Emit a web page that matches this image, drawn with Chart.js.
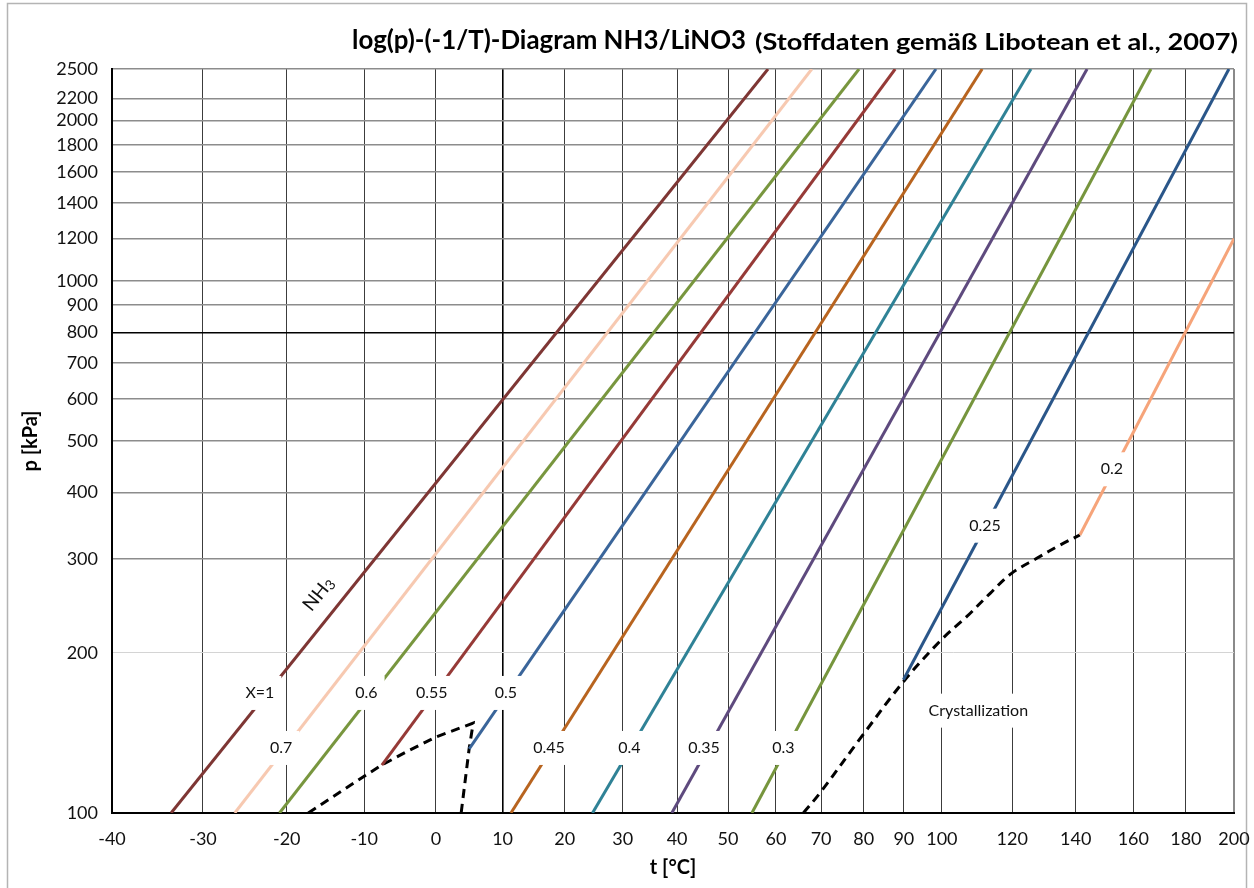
<!DOCTYPE html>
<html>
<head>
<meta charset="utf-8">
<script src="https://cdn.jsdelivr.net/npm/chart.js@4.4.1/dist/chart.umd.min.js"></script>
<style>
html,body{margin:0;padding:0;background:#fff;}
#wrap{width:1254px;height:888px;position:relative;}
</style>
</head>
<body>
<div id="wrap"><canvas id="c"></canvas></div>
<script>
// ---------- data ----------
const xTickTemps = [-40,-30,-20,-10,0,10,20,30,40,50,60,70,80,90,100,120,140,160,180,200];
const yTickPressures = [100,200,300,400,500,600,700,800,900,1000,1200,1400,1600,1800,2000,2200,2500];

const seriesNames = ['X=1','0.7','0.6','0.55','0.5','0.45','0.4','0.35','0.3','0.25','0.2'];
// temperature [°C] of start / end point of each line
const seriesT = [
  [-33.6, 58.3],
  [-26.3, 67.9],
  [-20.9, 78.9],
  [-7.6, 87.8],
  [4.9, 98.4],
  [11.3, 111.2],
  [24.7, 125.7],
  [39.0, 143.8],
  [54.9, 166.5],
  [89.9, 197.8],
  [141.4, 200]
];
// pressure [kPa] of start / end point of each line
const seriesP = [
  [100, 2500],
  [100, 2500],
  [100, 2500],
  [123, 2500],
  [132, 2500],
  [100, 2500],
  [100, 2500],
  [100, 2500],
  [100, 2500],
  [178, 2500],
  [333, 1200]
];

// crystallization line (two branches)
const crystA_T = [-17.3, -14.1, -10.1, -7.6, -4.2, 0.1, 5.5, 4.9, 3.7];
const crystA_P = [100, 107.3, 117.0, 123.1, 130.3, 139.1, 147.5, 132.3, 100];
const crystB_T = [66.0, 69.7, 79.5, 89.9, 99.8, 106.8, 113.5, 119.8, 127.5, 134.9, 141.4];
const crystB_P = [100, 108.9, 139.1, 176.5, 211.4, 233.8, 258.7, 282.0, 301.0, 318.8, 333.0];

// in-plot labels
const labelTexts = ['X=1','0.7','0.6','0.55','0.5','0.45','0.4','0.35','0.3','0.25','0.2','Crystallization'];
const labelT = [-23.3, -20.7, -9.7, -0.6, 10.5, 17.4, 31.2, 45.2, 61.6, 112.0, 152.3, 110.1];
const labelP = [168.1, 132.5, 168.1, 168.1, 168.1, 132.5, 132.5, 132.5, 132.5, 346.6, 442.4, 155.7];
const nh3LabelT = -16.0, nh3LabelP = 258;

const titleMain = 'log(p)-(-1/T)-Diagram NH3/LiNO3';
const titleSub = '(Stoffdaten gemäß Libotean et al., 2007)';

// ---------- styles ----------
const seriesColors = ['#7E3634','#F7C9B1','#78963E','#963A37','#3A659A','#B8641F','#2F8296','#5E4A7E','#76953D','#2A5689','#F6A47A'];
const FONT = 'Lato, "Open Sans", "DejaVu Sans", sans-serif';

// ---------- helpers ----------
const toU = t => -1000 / (t + 273.15);      // -1/T  (x 1000)
const fromU = u => -1000 / u - 273.15;

const datasets = seriesNames.map((n, i) => ({
  label: n,
  data: seriesT[i].map((t, k) => ({x: toU(t), y: seriesP[i][k]})),
  borderColor: seriesColors[i],
  borderWidth: 3,
  pointRadius: 0,
  tension: 0,
  fill: false
}));
[[crystA_T, crystA_P, 0], [crystB_T, crystB_P, 0.35]].forEach(([T, P, ten], j) => {
  datasets.push({
    label: 'Crystallization' + j,
    data: T.map((t, k) => ({x: toU(t), y: P[k]})),
    borderColor: '#000',
    borderWidth: 3,
    borderDash: [9, 6],
    pointRadius: 0,
    tension: ten,
    fill: false
  });
});

function drawFitted(ctx, text, size, rightX, baseY, width) {
  ctx.font = 'bold ' + size + 'px ' + FONT;
  const w = ctx.measureText(text).width;
  const sx = width / w;
  ctx.save();
  ctx.translate(rightX - width, baseY);
  ctx.scale(sx, 1);
  ctx.textAlign = 'left';
  ctx.fillText(text, 0, 0);
  ctx.restore();
}

const framePlugin = {
  id: 'frame',
  beforeDraw(chart) {
    const ctx = chart.ctx;
    ctx.save();
    ctx.fillStyle = '#fff';
    ctx.fillRect(0, 0, chart.width, chart.height);
    ctx.strokeStyle = '#b4b4b4';
    ctx.lineWidth = 1.5;
    ctx.strokeRect(7.5, 3.5, 1239, 900);
    ctx.restore();
  },
  afterDraw(chart) {
    const ctx = chart.ctx;
    ctx.save();
    ctx.fillStyle = '#000';
    ctx.textBaseline = 'alphabetic';
    drawFitted(ctx, titleSub, 22, 1238, 50, 483);
    drawFitted(ctx, titleMain, 27, 746, 49, 394);
    ctx.restore();
  }
};

const labelPlugin = {
  id: 'seriesLabels',
  afterDatasetsDraw(chart) {
    const {ctx, scales: {x, y}} = chart;
    ctx.save();
    ctx.font = '16px ' + FONT;
    ctx.textAlign = 'center';
    ctx.textBaseline = 'middle';
    labelTexts.forEach((txt, i) => {
      const px = x.getPixelForValue(toU(labelT[i]));
      const py = y.getPixelForValue(labelP[i]);
      const w = ctx.measureText(txt).width + 14, h = 34;
      ctx.fillStyle = '#fff';
      ctx.fillRect(px - w / 2, py - h / 2, w, h);
      ctx.fillStyle = '#111';
      ctx.fillText(txt, px, py);
    });
    // rotated NH3 label along first line
    const d = seriesT[0];
    const x1 = x.getPixelForValue(toU(d[0])), y1 = y.getPixelForValue(seriesP[0][0]);
    const x2 = x.getPixelForValue(toU(d[1])), y2 = y.getPixelForValue(seriesP[0][1]);
    const ang = Math.atan2(y2 - y1, x2 - x1);
    const cx = x.getPixelForValue(toU(nh3LabelT)), cy = y.getPixelForValue(nh3LabelP);
    ctx.translate(cx, cy);
    ctx.rotate(ang);
    ctx.textAlign = 'left';
    ctx.font = '19px ' + FONT;
    const wN = ctx.measureText('NH').width;
    ctx.font = '14px ' + FONT;
    const w3 = ctx.measureText('3').width;
    const start = -(wN + w3) / 2;
    ctx.fillStyle = '#111';
    ctx.font = '19px ' + FONT;
    ctx.fillText('NH', start, 0);
    ctx.font = '14px ' + FONT;
    ctx.fillText('3', start + wN, 4);
    ctx.restore();
  }
};

const tickIdx10 = xTickTemps.indexOf(10);
const tickIdxLast = xTickTemps.length - 1;

new Chart(document.getElementById('c'), {
  type: 'line',
  data: {datasets},
  plugins: [framePlugin, labelPlugin],
  options: {
    responsive: true,
    maintainAspectRatio: false,
    animation: false,
    devicePixelRatio: 1,
    layout: {padding: {top: 69, right: 20, left: 0, bottom: 0}},
    plugins: {legend: {display: false}, tooltip: {enabled: false}, title: {display: false}},
    scales: {
      x: {
        type: 'linear',
        min: toU(xTickTemps[0]),
        max: toU(xTickTemps[tickIdxLast]),
        afterBuildTicks: s => { s.ticks = xTickTemps.map(t => ({value: toU(t)})); },
        afterFit: s => { s.height = 75; s.paddingRight = 0; s.paddingLeft = 0; },
        ticks: {
          autoSkip: false, maxRotation: 0, minRotation: 0, padding: 15,
          color: '#111', font: {family: FONT, size: 18},
          callback: v => String(Math.round(fromU(v)))
        },
        grid: {
          drawTicks: false,
          color: c => c.index === tickIdx10 ? '#000' : (c.index === tickIdxLast ? '#8a8a8a' : '#3c3c3c'),
          lineWidth: c => c.index === tickIdx10 ? 1.6 : (c.index === tickIdxLast ? 2 : 1)
        },
        border: {display: true, color: '#000', width: 2},
        title: {display: true, text: 't [°C]', color: '#000', font: {family: FONT, size: 20, weight: 'bold'}, padding: {top: 0, bottom: 8}}
      },
      y: {
        type: 'logarithmic',
        min: yTickPressures[0],
        max: yTickPressures[yTickPressures.length - 1],
        afterBuildTicks: s => { s.ticks = yTickPressures.map(p => ({value: p})); },
        afterFit: s => { s.width = 112; s.paddingTop = 0; s.paddingBottom = 0; },
        ticks: {
          autoSkip: false, padding: 14,
          color: '#111', font: {family: FONT, size: 18},
          callback: v => String(v)
        },
        grid: {
          drawTicks: false,
          color: c => {
            const v = c.tick && c.tick.value;
            if (v === 800) return '#000';
            if (v === 200) return '#d4d4d4';
            return '#8c8c8c';
          },
          lineWidth: c => {
            const v = c.tick && c.tick.value;
            if (v === 800) return 1.6;
            if (v === 200) return 1;
            return 1.5;
          }
        },
        border: {display: true, color: '#000', width: 2},
        title: {display: true, text: 'p [kPa]', color: '#000', font: {family: FONT, size: 20, weight: 'bold'}, padding: {top: 19, bottom: 0}}
      }
    }
  }
});
</script>
</body>
</html>
